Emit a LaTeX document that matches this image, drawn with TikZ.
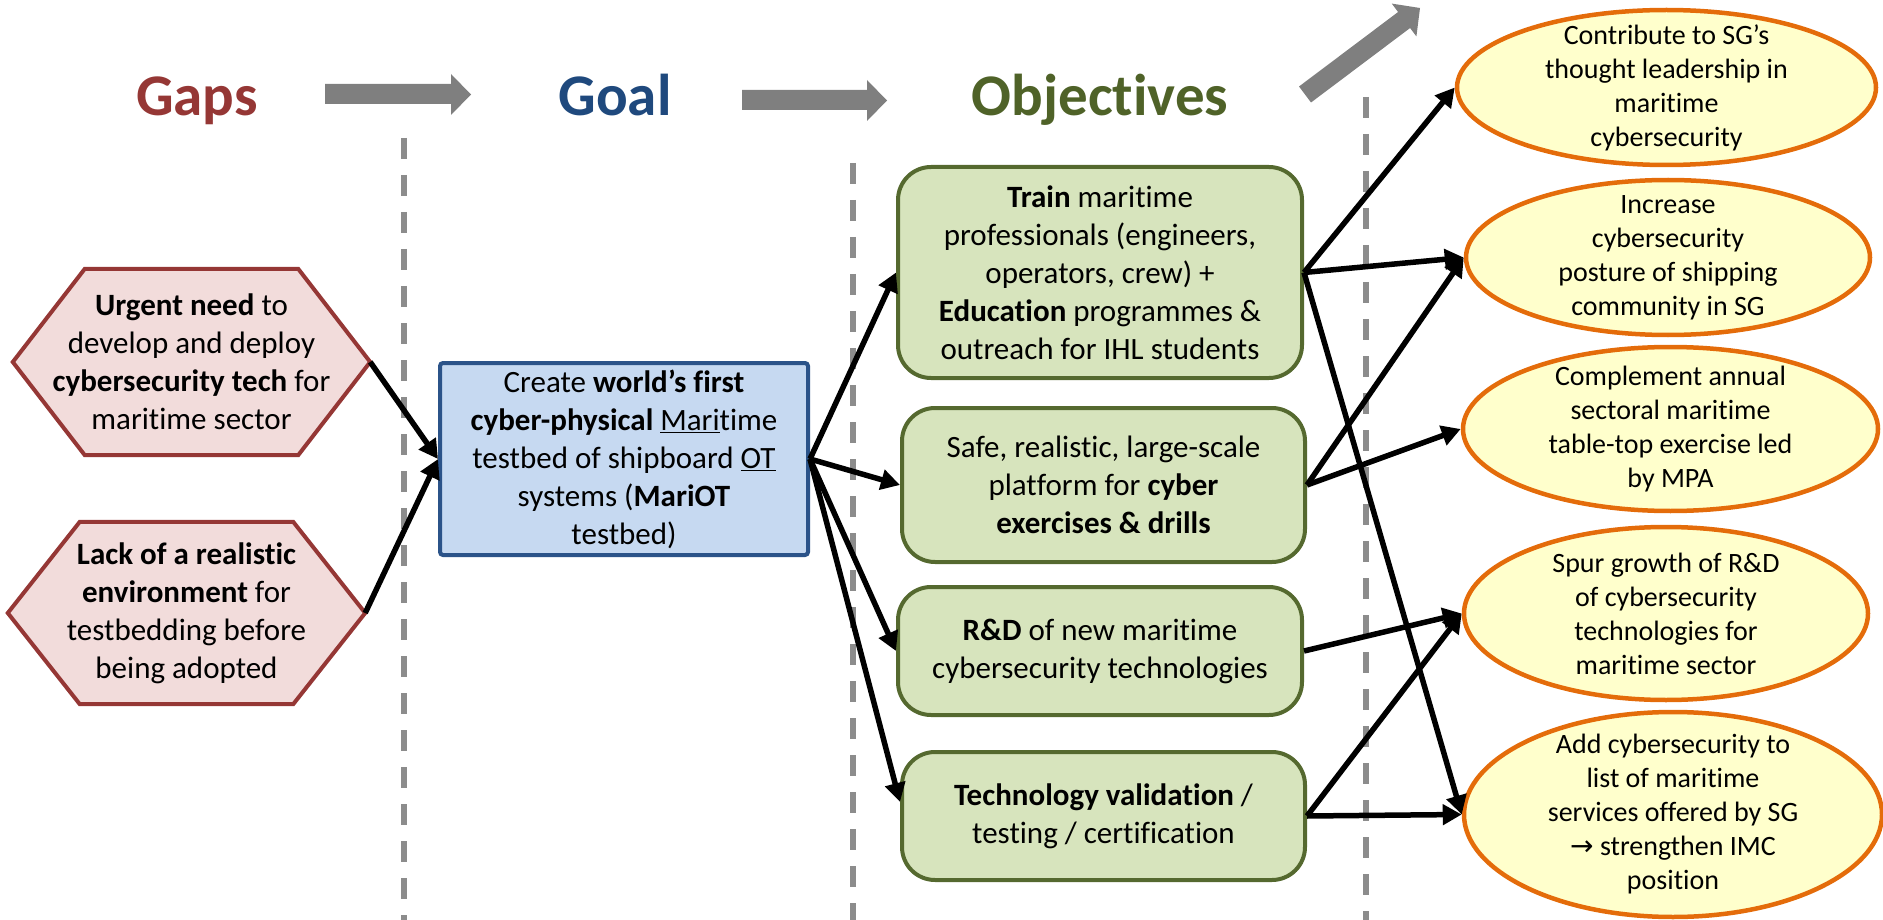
\documentclass[tikz,border=0pt]{standalone}
\usepackage{fontspec}
\setmainfont[Ligatures=NoCommon]{Carlito}
\newfontfamily\dejavu{DejaVu Sans}
\usetikzlibrary{arrows.meta,shapes.geometric,calc,backgrounds}
\definecolor{gapred}{HTML}{953735}
\definecolor{gapfill}{HTML}{F2DCDB}
\definecolor{goaltext}{HTML}{1F497D}
\definecolor{goalline}{HTML}{2B5389}
\definecolor{goalfill}{HTML}{C6D9F1}
\definecolor{objtext}{HTML}{4F6228}
\definecolor{objline}{HTML}{55692F}
\definecolor{objfill}{HTML}{D7E4BD}
\definecolor{outline}{HTML}{E46C0A}
\definecolor{outfill}{HTML}{FFFFCC}
\definecolor{arrowgray}{HTML}{7F7F7F}
\definecolor{sepgray}{HTML}{8C8C8C}
\begin{document}
\begin{tikzpicture}[x=1pt,y=-1pt,
  body/.style={font=\fontsize{31}{38}\selectfont, align=center, inner sep=0pt},
  efont/.style={font=\fontsize{28}{34}\selectfont, align=center, inner sep=0pt},
  hdr/.style={font=\fontsize{59}{70}\selectfont\bfseries, anchor=base, inner sep=0pt},
  hexbox/.style={draw=gapred, fill=gapfill, line width=4pt, line join=miter},
  goalbox/.style={rectangle, draw=goalline, fill=goalfill, line width=4pt, rounded corners=3pt},
  objbox/.style={rectangle, draw=objline, fill=objfill, line width=4pt, rounded corners=33pt},
  outbox/.style={ellipse, draw=outline, fill=outfill, line width=4.5pt, inner sep=0pt},
  conn/.style={line width=5.5pt, -{Triangle[length=19pt,width=20pt]}},
  sepline/.style={draw=sepgray, line width=5.5pt, dash pattern=on 21pt off 16pt},
  bigarrow/.style={fill=arrowgray}]
\useasboundingbox (0,0) rectangle (1883,920);

% separators
\coordinate (s1a) at (404,138); \coordinate (s1b) at (404,920);
\coordinate (s2a) at (853,163); \coordinate (s2b) at (853,920);
\coordinate (s3a) at (1366,97); \coordinate (s3b) at (1366,920);
\draw[sepline] (s1a) -- (s1b);
\draw[sepline] (s2a) -- (s2b);
\draw[sepline] (s3a) -- (s3b);

% headers
\node[hdr, text=gapred] (hgaps) at (197,116) {Gaps};
\node[hdr, text=goaltext] (hgoal) at (615,116) {Goal};
\node[hdr, text=objtext] (hobj) at (1100,116) {Objectives};

% big gray arrows
\fill[bigarrow] (325,84) -- (451,84) -- (451,74) -- (471,94.5) -- (451,115) -- (451,104) -- (325,104) -- cycle;
\fill[bigarrow] (742,90) -- (867,90) -- (867,80) -- (887,100.5) -- (867,121) -- (867,110) -- (742,110) -- cycle;
\fill[bigarrow] (1299,86.5) -- (1398.1,12.0) -- (1391.8,3.6) -- (1420,8) -- (1416.4,36.4) -- (1410.1,28.0) -- (1311,102.5) -- cycle;

% gaps (hexagons)
\node[body, minimum width=357pt, minimum height=186pt] (h1) at (191.5,362)
  {\textbf{Urgent need} to\\develop and deploy\\\textbf{cybersecurity tech} for\\maritime sector};
\node[body, minimum width=357pt, minimum height=182pt] (h2) at (186.5,613)
  {\textbf{Lack of a realistic}\\\textbf{environment} for\\testbedding before\\being adopted};
\begin{scope}[on background layer]
\draw[hexbox] (h1.west) -- ($(h1.north west)+(72,0)$) -- ($(h1.north east)+(-72,0)$) -- (h1.east)
  -- ($(h1.south east)+(-72,0)$) -- ($(h1.south west)+(72,0)$) -- cycle;
\draw[hexbox] (h2.west) -- ($(h2.north west)+(72,0)$) -- ($(h2.north east)+(-72,0)$) -- (h2.east)
  -- ($(h2.south east)+(-72,0)$) -- ($(h2.south west)+(72,0)$) -- cycle;
\end{scope}

% goal
\node[goalbox, body, minimum width=368pt, minimum height=192pt] (goal) at (624,459)
  {Create \textbf{world’s first}\\\textbf{cyber-physical} \underline{Mari}time\\testbed of shipboard \underline{OT}\\systems (\textbf{MariOT}\\testbed)};

% objectives
\node[objbox, body, minimum width=404pt, minimum height=211pt] (train) at (1100,272.5)
  {\textbf{Train} maritime\\professionals (engineers,\\operators, crew) +\\\textbf{Education} programmes \&\\outreach for IHL students};
\node[objbox, body, minimum width=403pt, minimum height=154pt] (safe) at (1103.5,485)
  {Safe, realistic, large-scale\\platform for \textbf{cyber}\\\textbf{exercises \& drills}};
\node[objbox, body, minimum width=404pt, minimum height=128pt] (rnd) at (1100,651)
  {\textbf{R\&D} of new maritime\\cybersecurity technologies};
\node[objbox, body, minimum width=403pt, minimum height=128pt] (tech) at (1103.5,816)
  {\textbf{Technology validation} /\\testing / certification};

% outcomes (ellipses)
\node[outbox, minimum width=419pt, minimum height=155pt] (e1) at (1666.5,87.5) {};
\node[efont] (e1t) at (e1) {Contribute to SG’s\\thought leadership in\\maritime\\cybersecurity};
\node[outbox, minimum width=404pt, minimum height=155pt] (e2) at (1668,257.5) {};
\node[efont] (e2t) at (e2) {Increase\\cybersecurity\\posture of shipping\\community in SG};
\node[outbox, minimum width=415pt, minimum height=164pt] (e3) at (1670.5,429) {};
\node[efont] (e3t) at (e3) {Complement annual\\sectoral maritime\\table-top exercise led\\by MPA};
\node[outbox, minimum width=404pt, minimum height=173pt] (e4) at (1666,613.5) {};
\node[efont] (e4t) at (e4) {Spur growth of R\&D\\of cybersecurity\\technologies for\\maritime sector};
\node[outbox, minimum width=418pt, minimum height=205pt] (e5) at (1673,814.5) {};
\node[efont] (e5t) at (e5) {Add cybersecurity to\\list of maritime\\services offered by SG\\{\dejavu →} strengthen IMC\\position};

% connectors
\draw[conn] (h1.east) -- (goal.west);
\draw[conn] (h2.east) -- (goal.west);
\draw[conn] (goal.east) -- (train.west);
\draw[conn] (goal.east) -- (safe.west);
\draw[conn] (goal.east) -- (rnd.west);
\draw[conn] (goal.east) -- ([yshift=14pt]tech.west);
\draw[conn] (train.east) -- (e1.west);
\draw[conn] (train.east) -- (e2.west);
\draw[conn] (train.east) -- (e5.west);
\draw[conn] (safe.east) -- (e2.west);
\draw[conn] (safe.east) -- (e3.west);
\draw[conn] (rnd.east) -- (e4.west);
\draw[conn] (tech.east) -- (e4.west);
\draw[conn] (tech.east) -- (e5.west);
\end{tikzpicture}
\end{document}
